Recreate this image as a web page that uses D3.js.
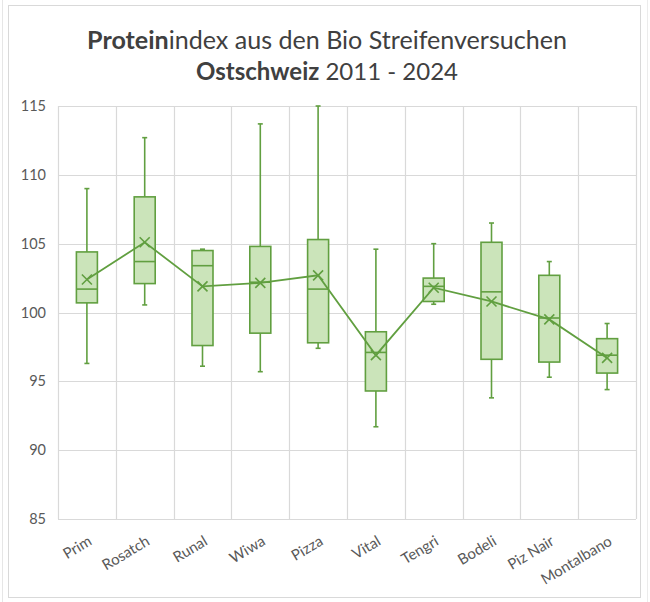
<!DOCTYPE html>
<html>
<head>
<meta charset="utf-8">
<script src="https://cdn.jsdelivr.net/npm/d3@7"></script>
<style>
  html, body { margin: 0; padding: 0; background: #fff; }
  svg { display: block; }
  text { font-family: Lato, "Open Sans", sans-serif; }
</style>
</head>
<body>
<svg id="chart" width="650" height="602"></svg>
<script>
// ---- Data ----
const categories = ["Prim", "Rosatch", "Runal", "Wiwa", "Pizza", "Vital", "Tengri", "Bodeli", "Piz Nair", "Montalbano"];
const mins    = [96.3, 100.55, 96.1, 95.7, 97.4, 91.7, 100.6, 93.8, 95.3, 94.4];
const q1s     = [100.7, 102.1, 97.6, 98.5, 97.8, 94.3, 100.8, 96.6, 96.4, 95.6];
const medians = [101.7, 103.7, 103.4, 102.2, 101.7, 97.1, 101.9, 101.5, 99.6, 96.9];
const q3s     = [104.4, 108.4, 104.5, 104.8, 105.3, 98.6, 102.5, 105.1, 102.7, 98.1];
const maxs    = [109.0, 112.7, 104.6, 113.7, 115.0, 104.6, 105.0, 106.5, 103.7, 99.2];
const means   = [102.4, 105.1, 101.9, 102.15, 102.7, 96.9, 101.8, 100.8, 99.5, 96.7];
const yTicks  = [85, 90, 95, 100, 105, 110, 115];
const titleLine1 = [["Protein", true], ["index aus den Bio Streifenversuchen", false]];
const titleLine2 = [["Ostschweiz", true], [" 2011 - 2024", false]];

// ---- Layout ----
const svg = d3.select("#chart");
const plot = { left: 58, right: 636, top: 106, bottom: 519 };
const green = "#619f40";
const fillGreen = "#cbe4ba";
const textGrey = "#595959";
const gridGrey = "#d9d9d9";

// outer chart frame
svg.append("line").attr("x1", 2.5).attr("x2", 2.5).attr("y1", 0).attr("y2", 602)
  .attr("stroke", "#e6e6e6").attr("stroke-width", 1);
svg.append("rect").attr("x", 8.5).attr("y", 5.5).attr("width", 632).attr("height", 592)
  .attr("fill", "none").attr("stroke", "#d9d9d9").attr("stroke-width", 1);
svg.append("line").attr("x1", 647.5).attr("x2", 647.5).attr("y1", 0).attr("y2", 602)
  .attr("stroke", "#ececec").attr("stroke-width", 1);

const x = d3.scaleBand().domain(categories).range([plot.left, plot.right]).paddingInner(0).paddingOuter(0);
const y = d3.scaleLinear().domain([85, 115]).range([plot.bottom, plot.top]);

// ---- Gridlines ----
const grid = svg.append("g");
grid.selectAll("line.h").data(yTicks).join("line")
  .attr("x1", plot.left).attr("x2", plot.right)
  .attr("y1", d => Math.round(y(d)) + 0.5).attr("y2", d => Math.round(y(d)) + 0.5)
  .attr("stroke", gridGrey).attr("stroke-width", 1.2);
const vLines = categories.map(c => x(c)).concat([plot.right]);
grid.selectAll("line.v").data(vLines).join("line")
  .attr("x1", d => Math.round(d) + 0.5).attr("x2", d => Math.round(d) + 0.5)
  .attr("y1", plot.top).attr("y2", plot.bottom)
  .attr("stroke", gridGrey).attr("stroke-width", 1.2);

// ---- Y axis labels ----
const yAxis = d3.axisLeft(y).tickValues(yTicks).tickSize(0).tickPadding(12);
const gy = svg.append("g").attr("transform", `translate(${plot.left},0)`).call(yAxis);
gy.select(".domain").remove();
gy.selectAll("text").attr("fill", textGrey).style("font-size", "14.5px")
  .style("font-family", "Lato, 'Open Sans', sans-serif");

// ---- X axis labels ----
const xAxis = d3.axisBottom(x).tickSize(0).tickPadding(0);
const gx = svg.append("g").attr("transform", `translate(0,${plot.bottom})`).call(xAxis);
gx.select(".domain").remove();
gx.selectAll(".tick text")
  .attr("fill", textGrey).style("font-size", "15px")
  .style("font-family", "Lato, 'Open Sans', sans-serif")
  .attr("text-anchor", "end")
  .attr("dy", null).attr("y", 0).attr("x", 0)
  .attr("transform", "translate(6,25) rotate(-31)");

// ---- Boxes ----
const bw = 21;
const rows = categories.map((c, i) => ({
  c, min: mins[i], q1: q1s[i], med: medians[i], q3: q3s[i], max: maxs[i], mean: means[i]
}));
const cx = d => x(d.c) + x.bandwidth() / 2;

const g = svg.append("g");
// whiskers
g.selectAll("line.wu").data(rows).join("line")
  .attr("x1", cx).attr("x2", cx).attr("y1", d => y(d.q3)).attr("y2", d => y(d.max))
  .attr("stroke", green).attr("stroke-width", 1.6);
g.selectAll("line.wl").data(rows).join("line")
  .attr("x1", cx).attr("x2", cx).attr("y1", d => y(d.q1)).attr("y2", d => y(d.min))
  .attr("stroke", green).attr("stroke-width", 1.6);
// caps
["max", "min"].forEach(k => {
  g.selectAll("line.cap" + k).data(rows).join("line")
    .attr("x1", d => cx(d) - 2.5).attr("x2", d => cx(d) + 2.5)
    .attr("y1", d => y(d[k])).attr("y2", d => y(d[k]))
    .attr("stroke", green).attr("stroke-width", 1.6);
});
// boxes
g.selectAll("rect.box").data(rows).join("rect")
  .attr("x", d => cx(d) - bw / 2).attr("width", bw)
  .attr("y", d => y(d.q3)).attr("height", d => y(d.q1) - y(d.q3))
  .attr("fill", fillGreen).attr("stroke", green).attr("stroke-width", 1.6);
// medians
g.selectAll("line.med").data(rows).join("line")
  .attr("x1", d => cx(d) - bw / 2).attr("x2", d => cx(d) + bw / 2)
  .attr("y1", d => y(d.med)).attr("y2", d => y(d.med))
  .attr("stroke", green).attr("stroke-width", 1.6);

// mean line
const line = d3.line().x(d => cx(d)).y(d => y(d.mean));
g.append("path").datum(rows).attr("d", line)
  .attr("fill", "none").attr("stroke", green).attr("stroke-width", 1.8);

// mean markers (X)
const ms = 5;
g.selectAll("path.mx").data(rows).join("path")
  .attr("d", d => {
    const px = cx(d), py = y(d.mean);
    return `M${px - ms},${py - ms}L${px + ms},${py + ms}M${px - ms},${py + ms}L${px + ms},${py - ms}`;
  })
  .attr("fill", "none").attr("stroke", green).attr("stroke-width", 1.6);

// ---- Title ----
function titleLine(parts, yPos, targetWidth) {
  const t = svg.append("text").attr("x", 327).attr("y", yPos).attr("text-anchor", "middle")
    .attr("fill", "#404040").style("font-size", "20px");
  parts.forEach(([s, b]) => t.append("tspan").text(s).style("font-weight", b ? "bold" : "normal"));
  const w = t.node().getComputedTextLength();
  t.style("font-size", (20 * targetWidth / w).toFixed(2) + "px");
}
titleLine(titleLine1, 49, 480);
titleLine(titleLine2, 80, 262);
</script>
</body>
</html>
